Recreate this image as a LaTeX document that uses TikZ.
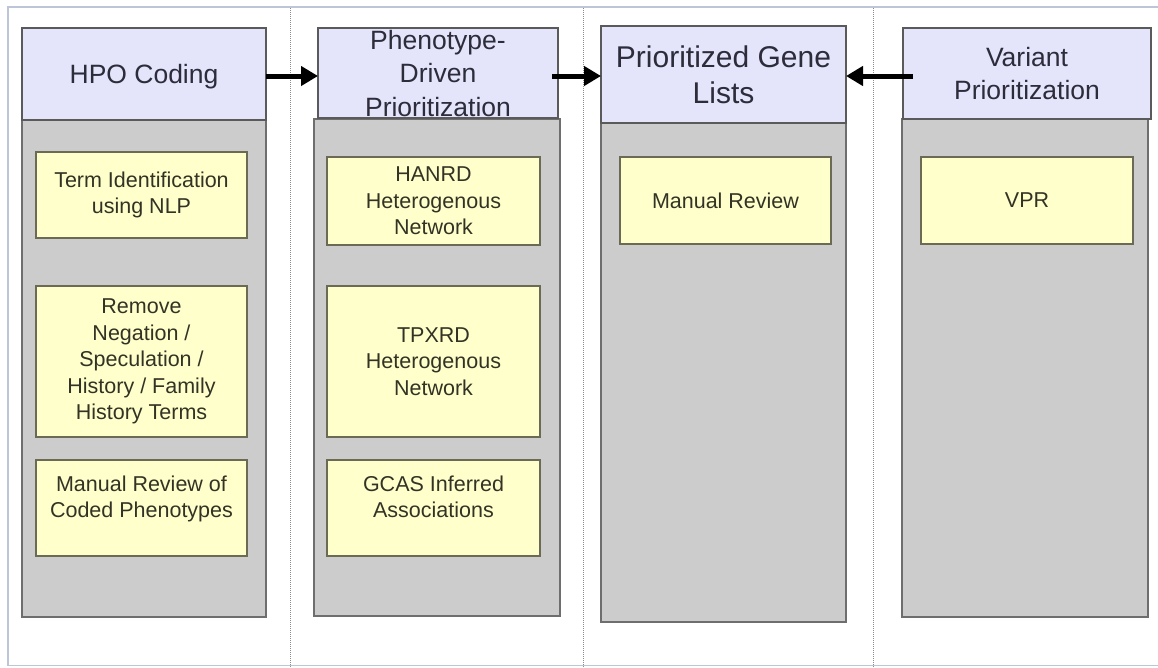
\documentclass[tikz,border=0pt]{standalone}
\usepackage{fontspec}
\setmainfont{Liberation Sans}
\usetikzlibrary{arrows.meta}
\definecolor{headfill}{HTML}{E4E4FB}
\definecolor{headline}{HTML}{5A5A5A}
\definecolor{bodyfill}{HTML}{CCCCCC}
\definecolor{bodyline}{HTML}{6E6E6E}
\definecolor{notefill}{HTML}{FFFFCC}
\definecolor{noteline}{HTML}{6B6B55}
\definecolor{headtext}{HTML}{2C2C3A}
\definecolor{notetext}{HTML}{333325}
\definecolor{framecol}{HTML}{BCC6D6}
\definecolor{sepcol}{HTML}{8C8C8C}
\begin{document}
\begin{tikzpicture}[x=1pt,y=-1pt,
  header/.style={draw=headline,fill=headfill,line width=1.3pt,inner sep=0pt,outer sep=0pt,
    align=center,text=headtext,text depth=0pt,font=\fontsize{26.5}{33.5}\selectfont},
  lane/.style={draw=bodyline,fill=bodyfill,line width=1.6pt,inner sep=0pt,outer sep=0pt},
  note/.style={draw=noteline,fill=notefill,line width=1.3pt,inner sep=0pt,outer sep=0pt,
    minimum width=211pt,align=center,text=notetext,font=\fontsize{21.5}{26.5}\selectfont},
  flow/.style={line width=5pt,-{Triangle[length=17pt,width=19pt]}},
  sep/.style={draw=sepcol,line width=0.9pt,dash pattern=on 1pt off 1pt}]
\useasboundingbox (0,0) rectangle (1158,667);
\fill[white] (0,0) rectangle (1158,667);
% outer frame
\draw[framecol,line width=1.2pt] (1160,7) -- (8,7) -- (8,665.5) -- (1160,665.5);
% lane separators
\foreach \x in {290,583,873} \draw[sep] (\x,8) -- (\x,667);

% lane bodies
\node[lane,minimum width=244pt,minimum height=497pt] (b1) at (144,368.5) {};
\node[lane,minimum width=246pt,minimum height=497pt] (b2) at (437,367.5) {};
\node[lane,minimum width=245pt,minimum height=499pt] (b3) at (723.5,372.5) {};
\node[lane,minimum width=246pt,minimum height=498pt] (b4) at (1025,368) {};

% lane headers
\node[header,minimum width=244pt,minimum height=92pt] (h1) at (144,74) {HPO Coding};
\node[header,minimum width=240pt,minimum height=90pt] (h2) at (438,73) {Phenotype-\\Driven\\Prioritization};
\node[header,minimum width=245pt,minimum height=97pt,text depth=,font=\fontsize{30}{36}\selectfont] (h3) at (723.5,74.5) {Prioritized Gene\\Lists};
\node[header,minimum width=248pt,minimum height=91pt] (h4) at (1027,73.5) {Variant\\Prioritization};

% task boxes
\node[note,minimum height=86pt] (t11) at (141.5,195) {Term Identification\\using NLP};
\node[note,minimum height=151pt] (t12) at (141.5,361.5) {Remove\\Negation /\\Speculation /\\History / Family\\History Terms};
\node[note,minimum height=96pt] (t13) at (141.5,508) {Manual Review of\\Coded Phenotypes\\[-4pt]\mbox{}};
\node[note,minimum width=213pt,minimum height=88pt] (t21) at (433.5,201) {HANRD\\Heterogenous\\Network};
\node[note,minimum width=213pt,minimum height=151pt] (t22) at (433.5,361.5) {TPXRD\\Heterogenous\\Network};
\node[note,minimum width=213pt,minimum height=96pt] (t23) at (433.5,508) {GCAS Inferred\\Associations\\[-4pt]\mbox{}};
\node[note,minimum height=87pt] (t31) at (725.5,200.5) {Manual Review};
\node[note,minimum width=212pt,minimum height=87pt] (t41) at (1027,200.5) {VPR};

% flow between lanes (level with the header line of text)
\coordinate (lvl) at (0,76);
\draw[flow] (h1.east |- lvl) -- (h2.west |- lvl);
\draw[flow] ([xshift=-6pt]h2.east |- lvl) -- (h3.west |- lvl);
\draw[flow] ([xshift=10pt]h4.west |- lvl) -- (h3.east |- lvl);
\end{tikzpicture}
\end{document}
